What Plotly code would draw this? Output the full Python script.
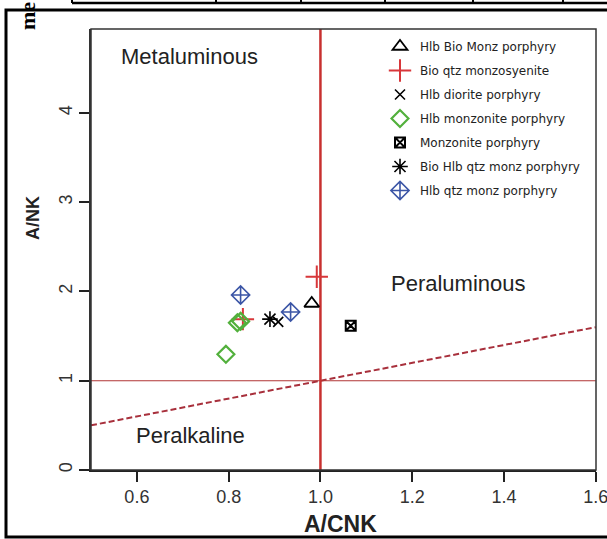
import plotly.graph_objects as go

# ---- data ----
series_names = ["Hlb Bio Monz porphyry", "Bio qtz monzosyenite", "Hlb diorite porphyry",
                "Hlb monzonite porphyry", "Monzonite porphyry", "Bio Hlb qtz monz porphyry",
                "Hlb qtz monz porphyry"]
acnk_hbm = [0.981]
ank_hbm = [1.865]
acnk_bqm = [0.992, 0.831]
ank_bqm = [2.165, 1.69]
acnk_hdp = [0.908]
ank_hdp = [1.66]
acnk_hmp = [0.819, 0.826, 0.794]
ank_hmp = [1.65, 1.665, 1.296]
acnk_mp = [1.066]
ank_mp = [1.616]
acnk_bhq = [0.89]
ank_bhq = [1.69]
acnk_hqm = [0.826, 0.935]
ank_hqm = [1.96, 1.77]

x_ticks = [0.6, 0.8, 1.0, 1.2, 1.4, 1.6]
y_ticks = [0, 1, 2, 3, 4]
x_range = [0.5, 1.6]
y_range = [0, 4.94]
boundary_acnk = 1.0
boundary_ank = 1.0
region_names = ["Metaluminous", "Peraluminous", "Peralkaline"]
region_x = [0.715, 1.30, 0.716]
region_y = [4.63, 2.09, 0.39]
x_title = "A/CNK"
y_title = "A/NK"

# ---- layout geometry (window pixels) ----
W, H = 607, 539
ML, MR, MT, MB = 91, 11, 29, 69
PW, PH = W - ML - MR, H - MT - MB

def px(xp):
    return (xp - ML) / PW

def py(yp):
    return (H - MB - yp) / PH

styles = [
    dict(symbol="triangle-up-open", color="black", size=13, lw=1.8),
    dict(symbol="cross-thin-open", color="#d8373a", size=16, lw=2),
    dict(symbol="x-thin-open", color="black", size=10, lw=1.6),
    dict(symbol="diamond-open", color="#52b03c", size=13, lw=2.2),
    dict(symbol="square-x-open", color="black", size=10, lw=2),
    dict(symbol="asterisk-open", color="black", size=13, lw=1.6),
    dict(symbol="diamond-cross-open", color="#3b55a6", size=14, lw=1.6),
]
xs = [acnk_hbm, acnk_bqm, acnk_hdp, acnk_hmp, acnk_mp, acnk_bhq, acnk_hqm]
ys = [ank_hbm, ank_bqm, ank_hdp, ank_hmp, ank_mp, ank_bhq, ank_hqm]

fig = go.Figure()

# boundary lines
fig.add_trace(go.Scatter(x=x_range, y=x_range, mode="lines",
                         line=dict(color="#a8303c", width=2, dash="6px,3px"),
                         showlegend=False, hoverinfo="skip"))
fig.add_trace(go.Scatter(x=x_range, y=[boundary_ank, boundary_ank], mode="lines",
                         line=dict(color="#b03535", width=1.2),
                         showlegend=False, hoverinfo="skip"))
fig.add_trace(go.Scatter(x=[boundary_acnk, boundary_acnk], y=y_range, mode="lines",
                         line=dict(color="#c8302f", width=2.5),
                         showlegend=False, hoverinfo="skip"))

for i, (name, st) in enumerate(zip(series_names, styles)):
    fig.add_trace(go.Scatter(
        x=xs[i], y=ys[i], mode="markers", name=name, legendgroup=f"g{i}",
        marker=dict(symbol=st["symbol"], size=st["size"], color=st["color"],
                    line=dict(color=st["color"], width=st["lw"])),
    ))

for name, rx, ry in zip(region_names, region_x, region_y):
    fig.add_annotation(x=rx, y=ry, text=name, showarrow=False,
                       xanchor="center", yanchor="middle",
                       font=dict(family="Liberation Sans, Arial", size=22, color="#222"))

# axis titles
fig.add_annotation(xref="paper", yref="paper", x=px(340), y=py(524), text=f"<b>{x_title}</b>",
                   showarrow=False, xanchor="center", yanchor="middle",
                   font=dict(family="Liberation Sans, Arial", size=23, color="#222"))
fig.add_annotation(xref="paper", yref="paper", x=px(33), y=py(218), text=f"<b>{y_title}</b>",
                   showarrow=False, textangle=-90, xanchor="center", yanchor="middle",
                   font=dict(family="Liberation Sans, Arial", size=18, color="#222"))

shapes = []
# plot frame
shapes.append(dict(type="rect", xref="paper", yref="paper", x0=0, y0=0, x1=1, y1=1,
                   line=dict(color="#333", width=1.5)))
# outer page frame (scan border)
shapes.append(dict(type="rect", xref="paper", yref="paper", x0=px(6), y0=py(537),
                   x1=px(612), y1=py(10), line=dict(color="black", width=3)))
# table fragment at top
shapes.append(dict(type="line", xref="paper", yref="paper", x0=px(72), x1=px(612),
                   y0=py(3), y1=py(3), line=dict(color="black", width=2.5)))
for vx in [72, 216, 301, 385, 473, 563]:
    shapes.append(dict(type="line", xref="paper", yref="paper", x0=px(vx), x1=px(vx),
                       y0=py(-2), y1=py(3), line=dict(color="black", width=2)))
fig.update_layout(shapes=shapes)

fig.add_annotation(xref="paper", yref="paper", x=px(27), y=py(16), text="<b>me</b>",
                   textangle=-90, showarrow=False, xanchor="center", yanchor="middle",
                   font=dict(family="Liberation Serif, Times New Roman", size=22, color="black"))

fig.update_xaxes(range=[x_range[0], x_range[1] + 0.0005], tickvals=x_ticks, tickformat=".1f",
                 ticks="outside", ticklabeloverflow="allow",
                 ticklen=10, tickwidth=1.5, tickcolor="#222", showgrid=False, zeroline=False,
                 showline=True, linecolor="#222", linewidth=1.5, automargin=False,
                 tickfont=dict(family="Liberation Sans, Arial", size=18, color="#333"))
fig.update_yaxes(range=y_range, tickvals=y_ticks, ticks="outside", ticklen=10, tickwidth=1.5,
                 tickcolor="#222", tickangle=-90, showgrid=False, zeroline=False,
                 showline=True, linecolor="#333", linewidth=1.5, automargin=False,
                 tickfont=dict(family="Liberation Sans, Arial", size=18, color="#333"))

fig.update_layout(
    width=W, height=H,
    margin=dict(l=ML, r=MR, t=MT, b=MB, autoexpand=False),
    paper_bgcolor="white", plot_bgcolor="white",
    legend=dict(x=px(380), y=py(32), xanchor="left", yanchor="top",
                bgcolor="rgba(0,0,0,0)", tracegroupgap=5,
                font=dict(family="DejaVu Sans", size=12, color="#222")),
)

fig.write_html("out.html", config={"displayModeBar": False},
               post_script="document.body.style.margin='0';document.body.style.overflow='hidden';")
